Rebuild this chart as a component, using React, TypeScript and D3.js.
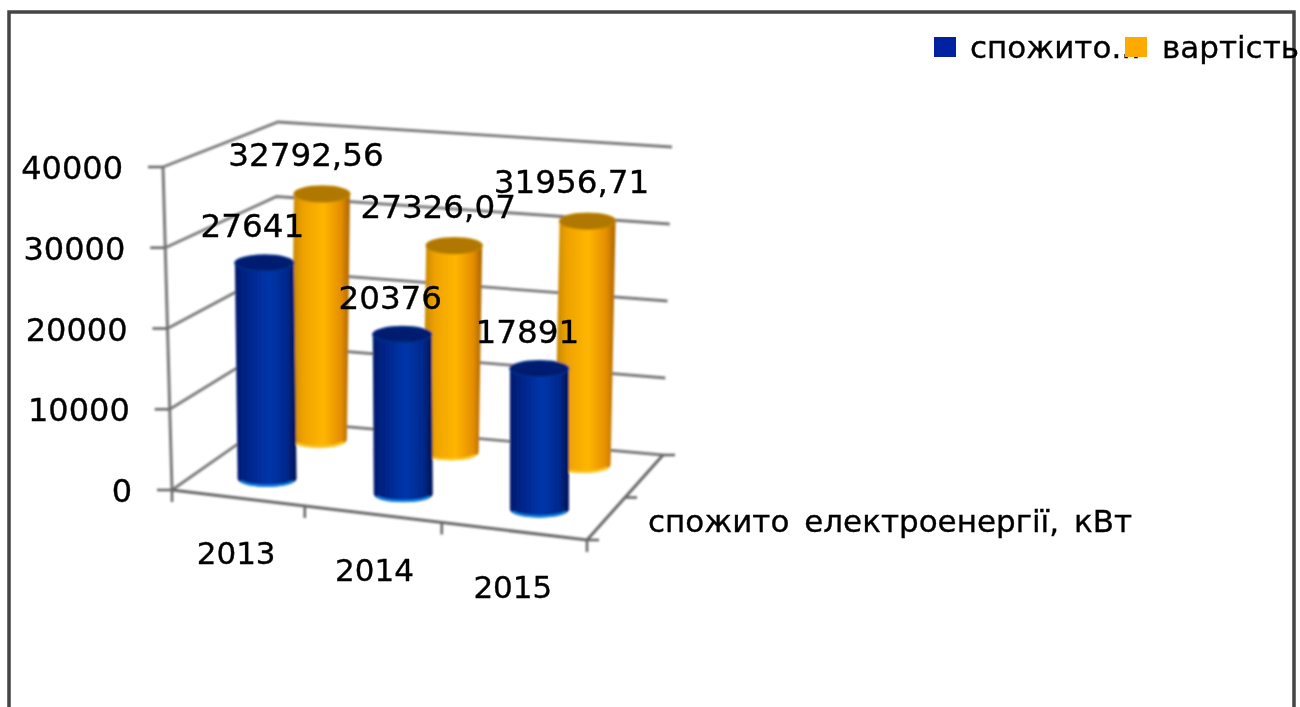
import React from "react";
import * as d3 from "d3";

const categories = ["2013", "2014", "2015"];
const seriesNames = ["спожито електроенергії, кВт", "вартість"];
const consumption = [27641, 20376, 17891];
const cost = [32792.56, 27326.07, 31956.71];
const costLabels = ["32792,56", "27326,07", "31956,71"];
const valueTicks = [0, 10000, 20000, 30000, 40000];
const legendLabels = ["спожито...", "вартість"];
const depthLabel = "спожито електроенергії, кВт";

type P = [number, number];
const FONT = "'DejaVu Sans', sans-serif";

// the eight corners of the chart's 3D box, as they land on the picture
const box = {
  fl0: [172, 490] as P, fr0: [587, 540] as P, bl0: [272, 420] as P, br0: [663, 455] as P,
  fl1: [163, 167] as P, fr1: [585, 216] as P, bl1: [278, 122] as P, br1: [672, 147] as P,
};

const mix = (a: P, b: P, t: number): P => [a[0] + (b[0] - a[0]) * t, a[1] + (b[1] - a[1]) * t];
const vScale = d3.scaleLinear().domain([0, 40000]).range([0, 1]);
const uScale = d3.scaleBand<string>().domain(categories).range([0, 1]);
const depth = d3.scaleOrdinal<string, number>().domain(seriesNames).range([0.27, 0.81]);

function project(u: number, d: number, value: number): P {
  const v = vScale(value);
  const bottom = mix(mix(box.fl0, box.fr0, u), mix(box.bl0, box.br0, u), d);
  const top = mix(mix(box.fl1, box.fr1, u), mix(box.bl1, box.br1, u), d);
  return mix(bottom, top, v);
}
const line = d3.line<P>();
const BAR_SHRINK = 0.985;

function Cylinder({ u, d, value, rx, ry, fill, cap, rim, capEdge }: any) {
  const b = project(u, d, 0);
  const t = project(u, d, value * BAR_SHRINK);
  const body = `M${t[0] - rx},${t[1]} L${b[0] - rx},${b[1]} A${rx},${ry} 0 0 0 ${b[0] + rx},${b[1]} L${t[0] + rx},${t[1]} Z`;
  const rimPath = `M${b[0] - rx + 3},${b[1] + 2.5} A${rx},${ry} 0 0 0 ${b[0] + rx - 3},${b[1] + 2.5}`;
  return (
    <g>
      <path d={body} fill={`url(#${fill})`} />
      <path d={rimPath} fill="none" stroke={rim} strokeWidth={2.5} />
      <ellipse cx={t[0]} cy={t[1]} rx={rx} ry={ry} fill={cap} stroke={capEdge} strokeWidth={1.5} />
    </g>
  );
}

export default function App() {
  const gridColor = "#787878";
  const axisColor = "#666";
  const series = [
    { name: seriesNames[1], values: cost, labels: costLabels, rx: 28, fill: "gOrange", cap: "#b07800", rim: "#ffc21a", capEdge: "#c08400", dx: -16, dy: -28 },
    {
      name: seriesNames[0], values: consumption, labels: consumption.map(String), rx: 29.5,
      fill: "gBlue", cap: "#001c70", rim: "#0f7fe0", capEdge: "#00308c", dx: -12, dy: -26,
    },
  ];
  const legendX = [934, 1125];
  const legendColors = ["#0023a0", "#ffaa00"];
  const legendTextX = [970, 1162];
  const xTickFractions = [0, 0.32, 0.65, 1];
  return (
    <svg width={1300} height={707} style={{ position: "absolute", left: 0, top: 0, background: "#fff" }}>
      <defs>
        <filter id="soft" x="-5%" y="-5%" width="110%" height="110%">
          <feGaussianBlur stdDeviation="0.9" />
        </filter>
        <filter id="frameSoft" x="-5%" y="-5%" width="110%" height="110%">
          <feGaussianBlur stdDeviation="0.6" />
        </filter>
        <filter id="softText" x="-5%" y="-5%" width="110%" height="110%">
          <feGaussianBlur stdDeviation="0.3" />
        </filter>
        <linearGradient id="gBlue" x1="0" x2="1" y1="0" y2="0">
          <stop offset="0" stopColor="#001a70" />
          <stop offset="0.22" stopColor="#00268a" />
          <stop offset="0.55" stopColor="#0436ac" />
          <stop offset="0.85" stopColor="#00288a" />
          <stop offset="1" stopColor="#000f50" />
        </linearGradient>
        <linearGradient id="gOrange" x1="0" x2="1" y1="0" y2="0">
          <stop offset="0" stopColor="#c08400" />
          <stop offset="0.2" stopColor="#eea200" />
          <stop offset="0.55" stopColor="#ffb600" />
          <stop offset="0.85" stopColor="#e48e00" />
          <stop offset="1" stopColor="#a86400" />
        </linearGradient>
      </defs>

      {/* frame */}
      <path d="M9,707 V12 H1294 V707" fill="none" stroke="#444" strokeWidth={3.5} filter="url(#frameSoft)" />

      <g filter="url(#soft)">
        {/* walls */}
        {valueTicks.map((t) => (
          <path key={t} fill="none" stroke={gridColor} strokeWidth={2.8}
            d={line([project(0, 0, t), project(0, 1, t), project(1, 1, t)])!} />
        ))}
        <path d={line([project(0, 0, 0), project(0, 0, 40000)])!} stroke={gridColor} strokeWidth={3} fill="none" />
        {/* floor edges */}
        <path d={line([project(0, 0, 0), project(1, 0, 0), project(1, 1, 0)])!} stroke={axisColor} strokeWidth={3} fill="none" />
        {/* ticks */}
        {valueTicks.map((t) => {
          const p = project(0, 0, t);
          return <path key={t} d={line([[p[0] - 15, p[1]], p])!} stroke={axisColor} strokeWidth={2.6} />;
        })}
        {xTickFractions.map((f) => {
          const p = project(f, 0, 0);
          return <path key={f} d={line([p, [p[0], p[1] + 12]])!} stroke={axisColor} strokeWidth={2.6} />;
        })}
        {[0, 0.5, 1].map((d) => {
          const p = project(1, d, 0);
          return <path key={d} d={line([p, [p[0] + 12, p[1]]])!} stroke={axisColor} strokeWidth={2.6} />;
        })}
        {/* cylinders, back row first */}
        {series.map((s) =>
          s.values.map((v, i) => (
            <Cylinder key={s.name + i} u={uScale(categories[i])! + uScale.bandwidth() / 2} d={depth(s.name)}
              value={v} rx={s.rx} ry={8} fill={s.fill} cap={s.cap} rim={s.rim} capEdge={s.capEdge} />
          ))
        )}
      </g>

      <g fontFamily={FONT} fontSize={32} fill="#000" stroke="#000" strokeWidth={0.35} filter="url(#softText)">
        {valueTicks.map((t) => {
          const p = project(0, 0, t);
          return <text key={t} x={p[0] - 40} y={p[1] + 12} textAnchor="end">{t}</text>;
        })}
        {categories.map((c) => {
          const u = uScale(c)! + uScale.bandwidth() / 2;
          const p = project(u, 0, 0);
          return <text key={c} x={p[0] - 5} y={p[1] + 66} textAnchor="middle" fontSize={31}>{c}</text>;
        })}
        {series.map((s) =>
          s.values.map((v, i) => {
            const p = project(uScale(categories[i])! + uScale.bandwidth() / 2, depth(s.name), v * BAR_SHRINK);
            return <text key={s.name + i} x={p[0] + s.dx} y={p[1] + s.dy} textAnchor="middle" fontSize={32.6}>{s.labels[i]}</text>;
          })
        )}
        <text x={648} y={532} fontSize={31} wordSpacing={5}>{depthLabel}</text>
        {legendLabels.map((l, i) => (
          <g key={l}>
            <text x={legendTextX[i]} y={58} fontSize={31}>{l}</text>
            <rect x={legendX[i]} y={37} width={22} height={20} fill={legendColors[i]} stroke="none" />
          </g>
        ))}
      </g>
    </svg>
  );
}
